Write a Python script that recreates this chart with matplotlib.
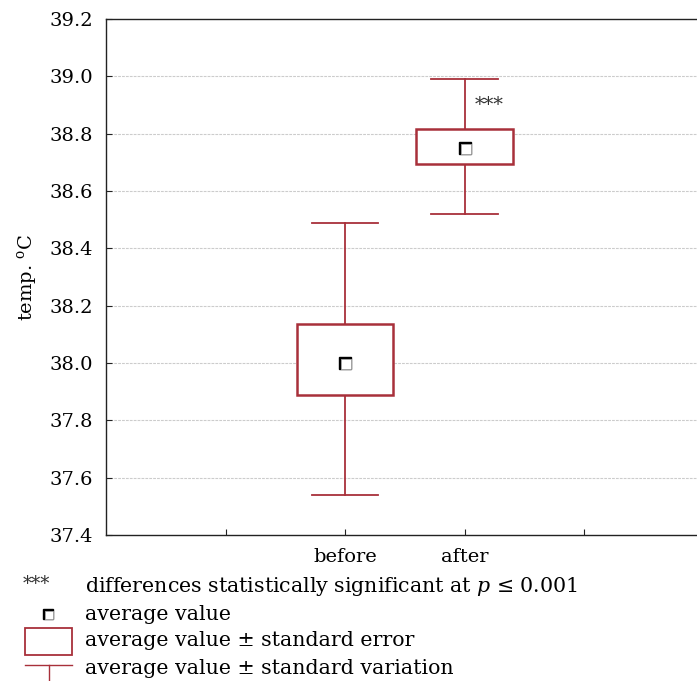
import matplotlib
matplotlib.use("Agg")
import matplotlib.pyplot as plt
from matplotlib.patches import Rectangle
from matplotlib.lines import Line2D

plt.rcParams["font.family"] = ["DejaVu Serif"]
plt.rcParams["mathtext.fontset"] = "dejavuserif"

# temperature summary per group
groups = ["before", "after"]
positions = [2, 3]
means = [38.0, 38.75]
se_low = [37.89, 38.695]
se_high = [38.135, 38.815]
sd_low = [37.54, 38.52]
sd_high = [38.49, 38.99]
yticks = [37.4, 37.6, 37.8, 38.0, 38.2, 38.4, 38.6, 38.8, 39.0, 39.2]

red = "#a8303a"
W, H = 697, 681

fig = plt.figure(figsize=(W / 100, H / 100), dpi=100)
ax = fig.add_axes([106 / W, 1 - 535 / H, 597.5 / W, 516 / H])

ax.set_xlim(0, 5)
ax.set_ylim(37.4, 39.2)
ax.set_yticks(yticks)
ax.set_yticklabels([f"{v:.1f}" for v in yticks], fontsize=14)
ax.set_xticks([1, 2, 3, 4])
ax.set_xticklabels(["", "before", "after", ""], fontsize=14)
ax.tick_params(axis="both", direction="in", length=4, width=0.8, color="#222222")
ax.tick_params(axis="x", pad=9)
ax.tick_params(axis="y", pad=9)
ax.set_ylabel("temp. $^{\\rm o}$C", fontsize=14, labelpad=8)
for s in ax.spines.values():
    s.set_linewidth(1.0)
    s.set_color("#222222")

# horizontal grid only
for v in yticks[1:-1]:
    ax.axhline(v, color="#cccccc", lw=0.8, ls=(0, (2.5, 1)), zorder=0)

px_x = 5 / 597.5
px_y = 1.8 / 516

box_w = 0.81
cap_w = 0.56
for x, m, lo, hi, a, b in zip(positions, means, se_low, se_high, sd_low, sd_high):
    ax.plot([x, x], [a, lo], color=red, lw=1.3, zorder=2)
    ax.plot([x, x], [hi, b], color=red, lw=1.3, zorder=2)
    ax.plot([x - cap_w / 2, x + cap_w / 2], [a, a], color=red, lw=1.3, zorder=2)
    ax.plot([x - cap_w / 2, x + cap_w / 2], [b, b], color=red, lw=1.3, zorder=2)
    ax.add_patch(Rectangle((x - box_w / 2, lo), box_w, hi - lo, facecolor="white",
                           edgecolor=red, lw=1.8, zorder=3))
    # mean marker with a dark shadow on the top-left corner
    ax.plot(x, m, marker="s", ms=8, color="black", zorder=4)
    ax.plot(x + 1.3 * px_x, m - 1.3 * px_y, marker="s", ms=7, mfc="white", mec="#aaaaaa",
            mew=0.6, zorder=5)

ax.text(3.21, 38.9, "***", fontsize=14, color="#333333", ha="center", va="center")

# legend under the chart, in pixel coordinates
def fx(px):
    return px / W

def fy(py):
    return 1 - py / H

rows = [586, 614, 641, 668]
texts = ["differences statistically significant at $p$ \u2264 0.001",
         "average value",
         "average value \u00b1 standard error",
         "average value \u00b1 standard variation"]
for y, t in zip(rows, texts):
    fig.text(fx(85), fy(y), t, fontsize=14.8, va="center", ha="left")

fig.text(fx(36), fy(584), "***", fontsize=13, color="#333333", ha="center", va="center")
fig.add_artist(Line2D([fx(48)], [fy(614)], marker="s", ms=7, color="black"))
fig.add_artist(Line2D([fx(49.2)], [fy(615.2)], marker="s", ms=6, mfc="white",
                      mec="#aaaaaa", mew=0.6))
fig.add_artist(Rectangle((fx(25), fy(655)), fx(47), 27 / H, facecolor="white",
                         edgecolor=red, lw=1.3, transform=fig.transFigure))
fig.add_artist(Line2D([fx(25), fx(72)], [fy(665), fy(665)], color=red, lw=1.0))
fig.add_artist(Line2D([fx(49), fx(49)], [fy(665), fy(681)], color=red, lw=1.0))

fig.savefig("out.png", dpi=100)
